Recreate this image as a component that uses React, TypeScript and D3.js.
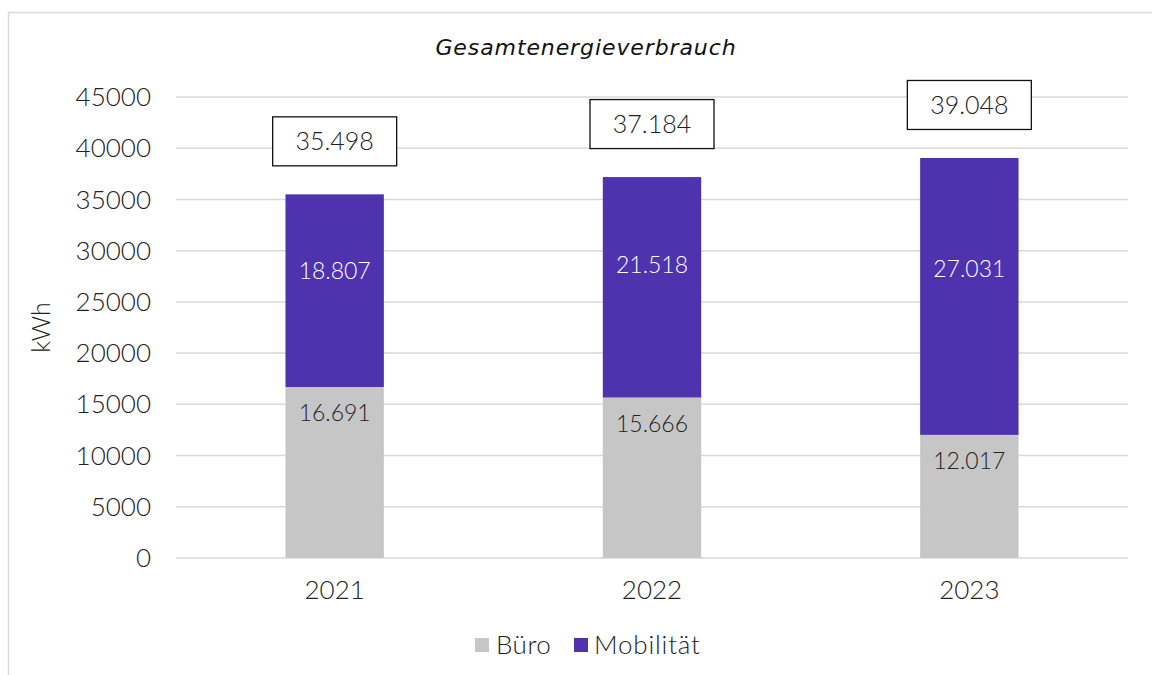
import React from 'react';
import * as d3 from 'd3';

const years = ['2021', '2022', '2023'];
const buero = [16691, 15666, 12017];
const mobilitaet = [18807, 21518, 27031];
const totals = [35498, 37184, 39048];
const yTicks = [0, 5000, 10000, 15000, 20000, 25000, 30000, 35000, 40000, 45000];
const seriesNames = ['Büro', 'Mobilität'];
const colors = ['#c6c6c6', '#4f33ae'];

const W = 1152;
const H = 675;
const font = 'Lato, "Noto Sans", sans-serif';
const fmt = (v: number) => d3.format(',')(v).replace(/,/g, '.');

export default function App() {
  const margin = { left: 176, right: 24, top: 97, bottom: 117 };
  const x = d3.scaleBand().domain(years).range([margin.left, W - margin.right]).paddingInner(0.69).paddingOuter(0.345);
  const y = d3.scaleLinear().domain([0, 45000]).range([H - margin.bottom, margin.top]);

  const rows = years.map((yr, i) => ({ year: yr, buero: buero[i], mobil: mobilitaet[i] }));
  const stack = d3.stack<any>().keys(['buero', 'mobil'])(rows);

  return (
    <svg width={W} height={H} style={{ position: 'absolute', left: 0, top: 0, background: '#fff' }}>
      <rect x={8.5} y={12.5} width={1300} height={900} fill="#fff" stroke="#d9d9d9" strokeWidth={1.5} />
      <text x={586} y={55} textAnchor="middle" fontFamily='"DejaVu Sans", sans-serif' fontStyle="italic" fontSize={22} letterSpacing={0.9} fill="#111">
        Gesamtenergieverbrauch
      </text>

      {yTicks.map(t => (
        <g key={t}>
          <line x1={margin.left} x2={W - margin.right} y1={y(t)} y2={y(t)} stroke="#d9d9d9" strokeWidth={1.5} />
          <text x={151} y={y(t)} dy="0.35em" textAnchor="end" fontFamily={font} fontWeight={300} fontSize={26} fill="#222">{t}</text>
        </g>
      ))}

      <text transform={`translate(50,${(y(0) + y(45000)) / 2}) rotate(-90)`} textAnchor="middle" fontFamily={font} fontWeight={300} fontSize={25} fill="#222">kWh</text>

      {stack.map((s, si) => (
        <g key={si}>
          {s.map((d, i) => (
            <rect key={i} x={x(years[i])} width={x.bandwidth()} y={y(d[1])} height={y(d[0]) - y(d[1])} fill={colors[si]} />
          ))}
        </g>
      ))}

      {/* segment labels */}
      {stack[0].map((d, i) => (
        <text key={'b' + i} x={x(years[i])! + x.bandwidth() / 2} y={y(d[1]) + 26} dy="0.35em" textAnchor="middle" fontFamily={font} fontWeight={300} fontSize={23} fill="#222">{fmt(buero[i])}</text>
      ))}
      {stack[1].map((d, i) => (
        <text key={'m' + i} x={x(years[i])! + x.bandwidth() / 2} y={y(d[1]) + 0.4 * (y(d[0]) - y(d[1]))} dy="0.35em" textAnchor="middle" fontFamily={font} fontWeight={300} fontSize={23} fill="#fff">{fmt(mobilitaet[i])}</text>
      ))}

      {/* total boxes */}
      {totals.map((t, i) => {
        const cx = x(years[i])! + x.bandwidth() / 2;
        const cy = y(t) - 53;
        return (
          <g key={'t' + i}>
            <rect x={cx - 62} y={cy - 24.5} width={124} height={49} fill="#fff" stroke="#111" strokeWidth={1.3} />
            <text x={cx} y={cy} dy="0.35em" textAnchor="middle" fontFamily={font} fontWeight={300} fontSize={25} fill="#222">{fmt(t)}</text>
          </g>
        );
      })}

      {years.map(yr => (
        <text key={yr} x={x(yr)! + x.bandwidth() / 2} y={590} dy="0.35em" textAnchor="middle" fontFamily={font} fontWeight={300} fontSize={26} fill="#222">{yr}</text>
      ))}

      {/* legend */}
      <rect x={475} y={638} width={14} height={14} fill={colors[0]} />
      <text x={496} y={645} dy="0.35em" fontFamily={font} fontWeight={300} fontSize={26} letterSpacing={0.5} fill="#222">{seriesNames[0]}</text>
      <rect x={574} y={638} width={14} height={14} fill={colors[1]} />
      <text x={594} y={645} dy="0.35em" fontFamily={font} fontWeight={300} fontSize={26} letterSpacing={0.8} fill="#222">{seriesNames[1]}</text>
    </svg>
  );
}
